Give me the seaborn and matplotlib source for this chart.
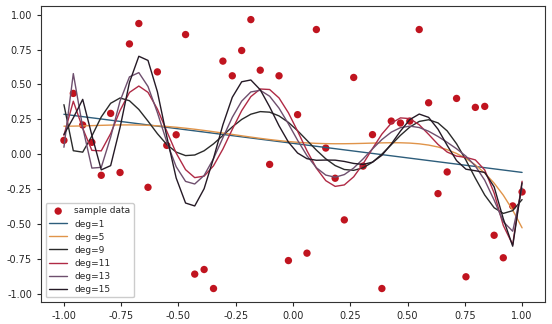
import numpy as np
import pandas as pd
import matplotlib
matplotlib.use("Agg")
import matplotlib.pyplot as plt
import seaborn as sns

x_vals = [-1.000, -0.959, -0.918, -0.878, -0.837, -0.796, -0.755, -0.714, -0.673, -0.633,
          -0.592, -0.551, -0.510, -0.469, -0.429, -0.388, -0.347, -0.306, -0.265, -0.224,
          -0.184, -0.143, -0.102, -0.061, -0.020, 0.020, 0.061, 0.102, 0.143, 0.184,
          0.224, 0.265, 0.306, 0.347, 0.388, 0.429, 0.469, 0.510, 0.551, 0.592,
          0.633, 0.673, 0.714, 0.755, 0.796, 0.837, 0.878, 0.918, 0.959, 1.000]
y_vals = [0.100, 0.436, 0.210, 0.086, -0.150, 0.293, -0.130, 0.790, 0.936, -0.236,
          0.590, 0.064, 0.140, 0.857, -0.857, -0.824, -0.960, 0.667, 0.562, 0.743,
          0.964, 0.602, -0.072, 0.562, -0.760, 0.284, -0.707, 0.893, 0.045, -0.171,
          -0.469, 0.550, -0.084, 0.141, -0.960, 0.238, 0.224, 0.238, 0.893, 0.369,
          -0.281, -0.126, 0.400, -0.876, 0.336, 0.343, -0.579, -0.740, -0.369, -0.269]
degrees = [1, 5, 9, 11, 13, 15]
line_colors = ["#2d5d7b", "#e0944a", "#2a2a2a", "#b02a45", "#6e4f6e", "#251a26"]

sns.set_style("ticks")
plt.rcParams["font.family"] = ["DejaVu Sans"]

x = np.array(x_vals)
y = np.array(y_vals)

fig = plt.figure(figsize=(5.52, 3.24), dpi=100)
ax = fig.add_axes([0.0743, 0.068, 0.913, 0.913])

sns.scatterplot(x=x, y=y, ax=ax, color="#c0141f", s=28, edgecolor="none",
                label="sample data", zorder=1)
for deg, col in zip(degrees, line_colors):
    coefs = np.polyfit(x, y, deg)
    yfit = np.polyval(coefs, x)
    sns.lineplot(x=x, y=yfit, ax=ax, color=col, linewidth=1.0,
                 label=f"deg={deg}", sort=False, zorder=2)

for s in ax.spines.values():
    s.set_visible(True)
    s.set_linewidth(0.8)
    s.set_color("#333333")
ax.set_xticks([-1.0, -0.75, -0.5, -0.25, 0.0, 0.25, 0.5, 0.75, 1.0])
ax.set_yticks([-1.0, -0.75, -0.5, -0.25, 0.0, 0.25, 0.5, 0.75, 1.0])
ax.xaxis.set_major_formatter(matplotlib.ticker.FormatStrFormatter("%.2f"))
ax.yaxis.set_major_formatter(matplotlib.ticker.FormatStrFormatter("%.2f"))
ax.tick_params(labelsize=7, length=3, width=0.8)
ax.legend(loc="lower left", fontsize=6.5, frameon=True, framealpha=1,
          handlelength=2.0, labelspacing=0.45, borderpad=0.4)

fig.savefig("out.png", dpi=100)
